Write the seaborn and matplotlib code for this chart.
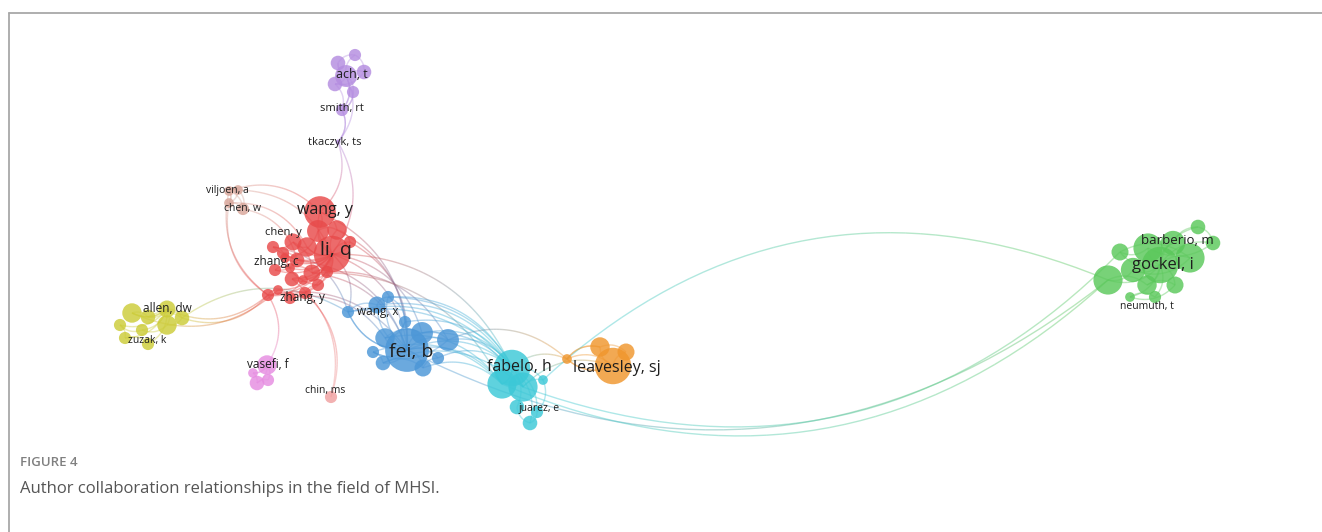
import matplotlib
matplotlib.use("Agg")
import matplotlib.pyplot as plt
import numpy as np
import pandas as pd
import seaborn as sns
from matplotlib.collections import LineCollection
from matplotlib.colors import to_rgb
from matplotlib.lines import Line2D

# author nodes (map coordinates, weight as radius, cluster)
node_id = ["p0", "p1", "p2", "p3", "p4", "p5", "p6", "p7",
           "s0", "s1", "s2", "s3", "m0",
           "r0", "r1", "r2", "r3", "r4", "r5", "r6", "r7", "r8", "r9", "r10",
           "r11", "r12", "r13", "r14", "r15", "r16", "r17", "r18", "r19", "r20", "r21",
           "y0", "y1", "y2", "y3", "y4", "y5", "y6", "y7", "y8",
           "v0", "v1", "v2", "v3",
           "b0", "b1", "b2", "b3", "b4", "b5", "b6", "b7", "b8", "b9", "b10", "b11",
           "c0", "c1", "c2", "c3", "c4", "c5", "c6",
           "o0", "o1", "o2", "o3",
           "g0", "g1", "g2", "g3", "g4", "g5", "g6", "g7", "g8", "g9", "g10", "g11", "g12"]
node_x = [346, 338, 355, 364, 335, 353, 342, 338,
          229, 238, 229, 243, 331,
          320, 318, 337, 350, 332, 307, 293, 273, 283, 297, 275,
          290, 312, 327, 292, 303, 268, 278, 290, 305, 318, 285,
          167, 132, 148, 182, 167, 142, 120, 125, 148,
          267, 253, 257, 268,
          407, 348, 377, 388, 405, 385, 422, 448, 373, 383, 423, 438,
          512, 502, 523, 543, 537, 530, 517,
          613, 567, 600, 626,
          1160, 1173, 1198, 1213, 1148, 1120, 1190, 1133, 1108, 1147, 1175, 1130, 1155]
node_y = [76, 63, 55, 72, 84, 92, 110, 142,
          191, 190, 203, 209, 397,
          212, 231, 230, 242, 254, 247, 242, 247, 253, 260, 270,
          268, 273, 272, 279, 280, 295, 290, 298, 293, 285, 258,
          309, 313, 317, 318, 325, 330, 325, 338, 344,
          365, 373, 383, 380,
          350, 312, 305, 297, 322, 338, 333, 340, 352, 363, 368, 358,
          368, 384, 387, 380, 412, 423, 407,
          366, 359, 347, 352,
          265, 243, 227, 243, 248, 252, 258, 270, 280, 285, 285, 297, 297]
node_r = [9, 6, 5, 6, 6, 5, 5, 2,
          4, 4, 4, 5, 5,
          13, 9, 8, 5, 15, 8, 7, 5, 5, 6, 5,
          4, 7, 5, 6, 4, 5, 4, 5, 5, 5, 4,
          7, 8, 6, 6, 8, 5, 5, 5, 5,
          8, 4, 6, 5,
          18, 5, 7, 5, 5, 8, 9, 9, 5, 6, 7, 5,
          15, 12, 12, 4, 5, 6, 6,
          15, 4, 8, 7,
          15, 10, 6, 6, 12, 7, 12, 10, 12, 8, 7, 4, 5]
node_cluster = (["purple"] * 8 + ["tan"] * 4 + ["pink"] + ["red"] * 22 + ["yellow"] * 9
                + ["magenta"] * 4 + ["blue"] * 12 + ["cyan"] * 7 + ["orange"] * 4 + ["green"] * 13)

palette = {"purple": "#b48ce0", "tan": "#d8a69a", "pink": "#f0a0a0", "red": "#e84a4a",
           "yellow": "#cccc38", "magenta": "#e68ce1", "blue": "#4b96d7", "cyan": "#3cc8d7",
           "orange": "#f0962d", "green": "#5ac85a"}
cluster_hub = {"purple": "p0", "tan": "s0", "red": "r4", "yellow": "y0", "magenta": "v0",
               "blue": "b0", "cyan": "c0", "orange": "o0", "green": "g0"}

# links between clusters
edges = [("p0", "p6"), ("p6", "p7"), ("p7", "r0"), ("p7", "r4"), ("p4", "p6"), ("p5", "p6"),
         ("s0", "r0"), ("s1", "r4"), ("s2", "r5"), ("s3", "r9"), ("r16", "s0"), ("r16", "s2"),
         ("s0", "s2"), ("s1", "s3"), ("r1", "r21"), ("r0", "r2"), ("r6", "r12"),
         ("r16", "y0"), ("r16", "y3"), ("r17", "y1"), ("y3", "b1"),
         ("r16", "v0"), ("r19", "m0"), ("r14", "m0"),
         ("r4", "b0"), ("r4", "b1"), ("r12", "b0"), ("r16", "b0"), ("r9", "b0"), ("r0", "b0"),
         ("r4", "b6"), ("r2", "b0"), ("r13", "b7"), ("r3", "b0"), ("r4", "c0"), ("r12", "c1"),
         ("r7", "b1"), ("r18", "b5"),
         ("b0", "c0"), ("b0", "c1"), ("b6", "c0"), ("b7", "c0"), ("b5", "c1"), ("b1", "c0"),
         ("b2", "c0"), ("b3", "c2"), ("b9", "c2"), ("b10", "c1"), ("b11", "c0"), ("b4", "c0"),
         ("b8", "c1"), ("b1", "c2"), ("b6", "c2"), ("b3", "c0"),
         ("c0", "o1"), ("c2", "o0"), ("b7", "o1"), ("o1", "o0"), ("o1", "o2"),
         ("c3", "g8"), ("g8", "b0"), ("g8", "c1"), ("g5", "c2")]

label_text = ["ach, t", "smith, rt", "tkaczyk, ts", "viljoen, a", "chen, w", "wang, y",
              "chen, y", "li, q", "zhang, c", "zhang, y", "allen, dw", "zuzak, k",
              "vasefi, f", "chin, ms", "wang, x", "fei, b", "fabelo, h", "juarez, e",
              "leavesley, sj", "barberio, m", "gockel, i", "neumuth, t"]
label_x = [352, 342, 335, 227, 243, 325, 283, 336, 276, 302, 167, 147,
           268, 325, 378, 411, 519, 539, 617, 1177, 1163, 1147]
label_y = [75, 109, 142, 190, 208, 210, 233, 250, 262, 297, 309, 341,
           365, 390, 311, 352, 367, 409, 368, 241, 265, 306]
label_pt = [9, 8, 8, 7.5, 7.5, 11.5, 8, 14, 8.5, 8.5, 8.5, 7.5,
            8.5, 7.5, 8.5, 14, 11.5, 7.5, 11.5, 9.5, 12, 7.5]

nodes = pd.DataFrame({"id": node_id, "x": node_x, "y": node_y, "r": node_r,
                      "cluster": node_cluster}).set_index("id", drop=False)

# intra-cluster links: every member tied to its hub, plus to its neighbour
for cl, hub in cluster_hub.items():
    members = nodes[nodes["cluster"] == cl]["id"].tolist()
    for i, m in enumerate(members):
        if m != hub:
            edges.append((hub, m))
        if i > 0:
            edges.append((members[i - 1], m))


def curve(a, b, k=0.32, n=40):
    x0, y0 = nodes.loc[a, "x"], nodes.loc[a, "y"]
    x1, y1 = nodes.loc[b, "x"], nodes.loc[b, "y"]
    cx = (x0 + x1) / 2 + k * (y1 - y0)
    cy = (y0 + y1) / 2 - k * (x1 - x0)
    t = np.linspace(0, 1, n)
    bx = (1 - t) ** 2 * x0 + 2 * (1 - t) * t * cx + t ** 2 * x1
    by = (1 - t) ** 2 * y0 + 2 * (1 - t) * t * cy + t ** 2 * y1
    return np.column_stack([bx, by])


sns.set_style("white")
plt.rcParams["font.family"] = ["Open Sans", "DejaVu Sans"]

fig = plt.figure(figsize=(13.22, 5.32), dpi=100)
ax = fig.add_axes([0, 0, 1, 1])

segs, cols = [], []
for a, b in edges:
    pts = curve(a, b)
    ca = np.array(to_rgb(palette[nodes.loc[a, "cluster"]]))
    cb = np.array(to_rgb(palette[nodes.loc[b, "cluster"]]))
    for i in range(len(pts) - 1):
        t = i / (len(pts) - 2)
        segs.append(pts[i:i + 2])
        cols.append(tuple((1 - t) * ca + t * cb) + (0.42,))
ax.add_collection(LineCollection(segs, colors=cols, linewidths=1.0, zorder=1))

nodes_sorted = nodes.sort_values("r", ascending=False)
sns.scatterplot(data=nodes_sorted, x="x", y="y", hue="cluster", palette=palette,
                s=(1.75 * nodes_sorted["r"]) ** 2, alpha=0.82, edgecolor="none",
                legend=False, ax=ax, zorder=2)

for txt, lx, ly, pt in zip(label_text, label_x, label_y, label_pt):
    ax.text(lx, ly, txt, fontsize=pt, color="#1e1e1e", ha="center", va="center", zorder=3)

ax.set_xlim(0, 1322)
ax.set_ylim(532, 0)
ax.axis("off")

# frame and caption
fig.add_artist(Line2D([9 / 1322, 9 / 1322], [0, 1 - 13 / 532], transform=fig.transFigure,
                      color="#a8a8a8", linewidth=1.3))
fig.add_artist(Line2D([9 / 1322, 1], [1 - 13 / 532, 1 - 13 / 532], transform=fig.transFigure,
                      color="#a8a8a8", linewidth=1.3))
fig.text(20 / 1322, 1 - 463 / 532, "FIGURE 4", fontsize=9.5, color="#808080",
         fontweight="semibold", va="center", ha="left")
fig.text(20 / 1322, 1 - 489 / 532, "Author collaboration relationships in the field of MHSI.",
         fontsize=12, color="#555555", va="center", ha="left")

fig.savefig("out.png", dpi=100, facecolor="white")
